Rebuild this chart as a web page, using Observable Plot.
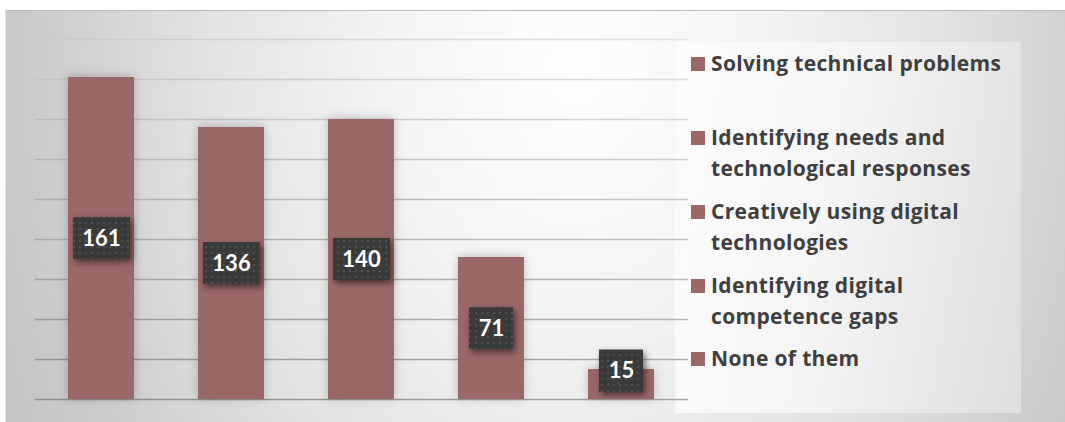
<!DOCTYPE html>
<html><head><meta charset="utf-8">
<script src="https://cdn.jsdelivr.net/npm/d3@7"></script>
<script src="https://cdn.jsdelivr.net/npm/@observablehq/plot@0.6"></script>
<style>
body{margin:0;background:#fff;font-family:Lato,"Open Sans",sans-serif;}
#chart{position:absolute;left:5px;top:10px;width:1060px;height:412px;overflow:hidden;
  background:radial-gradient(ellipse 620px 820px at 570px 60px,#fefefe 0%,#f4f4f4 30%,#e2e2e2 60%,#cdcdcd 85%,#c4c4c4 100%);
  box-shadow:inset 0 1px 0 #bdbdbd, inset 1px 0 0 #e6e6e6;}
#legend{position:absolute;left:670px;top:32px;width:346px;height:371px;padding-top:6px;box-sizing:border-box;
  background:linear-gradient(100deg,#fcfcfc 0%,#f5f5f5 45%,#e6e6e6 80%,#dedede 100%);}
.item{position:relative;padding-left:36px;font-family:"Open Sans",sans-serif;font-weight:700;font-size:21px;line-height:31px;color:#3f3f3f;white-space:pre-line;letter-spacing:0.35px;}
.item .sw{position:absolute;left:16px;top:9px;width:14px;height:14px;background:#9b6868;}
.item:nth-child(2){margin-top:43px}
.item:nth-child(3){margin-top:12px}
.item:nth-child(4){margin-top:12px}
.item:nth-child(5){margin-top:11px}
#plot{position:absolute;left:0;top:0}
</style></head><body>
<div id="chart"><div id="legend"></div><div id="plot"></div></div>
<script>
const categories = ["Solving technical problems","Identifying needs and technological responses","Creatively using digital technologies","Identifying digital competence gaps","None of them"];
const legendLines = ["Solving technical problems","Identifying needs and\ntechnological responses","Creatively using digital\ntechnologies","Identifying digital\ncompetence gaps","None of them"];
const values = [161,136,140,71,15];
const yTicks = [0,20,40,60,80,100,120,140,160,180];

const barColor = "#9b6868";
const data = categories.map((c,i)=>({category:c, value:values[i], label:String(values[i]), mid:Math.max(values[i]/2, 14.25)}));

const plot = Plot.plot({
  width:1060, height:412,
  marginLeft:30, marginRight:377, marginTop:29, marginBottom:23,
  style:{background:"transparent", fontFamily:"Lato, 'Open Sans', sans-serif"},
  x:{domain:categories, paddingInner:0.49, paddingOuter:0.245, axis:null},
  y:{domain:[0,180], axis:null},
  marks:[
    Plot.ruleY(yTicks,{stroke:"url(#gridGrad)", strokeWidth:1.3}),
    Plot.barY(data,{x:"category", y:"value", fill:barColor}),
    Plot.barY(data.filter(d=>d.label.length>2),{x:"category", y1:d=>d.mid-10.5, y2:d=>d.mid+10.5, fill:"url(#dots)", insetLeft:5, insetRight:4}),
    Plot.barY(data.filter(d=>d.label.length<=2),{x:"category", y1:d=>d.mid-10.5, y2:d=>d.mid+10.5, fill:"url(#dots)", insetLeft:11, insetRight:11}),
    Plot.text(data,{x:"category", y:"mid", text:"label", fill:"white", fontSize:22, fontWeight:"bold"})
  ]
});

const svg = d3.select(plot);
const defs = svg.insert("defs",":first-child");
const xr = plot.scale("x").range, yr = plot.scale("y").range;
const grad = defs.append("linearGradient").attr("id","gridGrad").attr("gradientUnits","userSpaceOnUse")
  .attr("x1",xr[0]).attr("y1",yr[0]).attr("x2",xr[0]+115).attr("y2",yr[0]-487);
grad.append("stop").attr("offset","0").attr("stop-color","#8c8c8c");
grad.append("stop").attr("offset","1").attr("stop-color","#e4e4e4");
const pat = defs.append("pattern").attr("id","dots").attr("patternUnits","userSpaceOnUse").attr("width",6).attr("height",6);
pat.append("rect").attr("width",6).attr("height",6).attr("fill","#3a3a3a");
pat.append("circle").attr("cx",3).attr("cy",3).attr("r",0.9).attr("fill","#585858");

const barGroups = svg.selectAll("g[aria-label='bar']").nodes();
d3.select(barGroups[0]).style("filter","drop-shadow(0px -1px 5px rgba(0,0,0,0.22))");
d3.select(barGroups[1]).style("filter","drop-shadow(2px 3px 3px rgba(0,0,0,0.55))");
d3.select(barGroups[2]).style("filter","drop-shadow(2px 3px 3px rgba(0,0,0,0.55))");

document.getElementById("plot").appendChild(plot);

const legend = d3.select("#legend");
legendLines.forEach(t=>{
  const it = legend.append("div").attr("class","item");
  it.append("span").attr("class","sw");
  it.append("span").text(t);
});
</script>
</body></html>
